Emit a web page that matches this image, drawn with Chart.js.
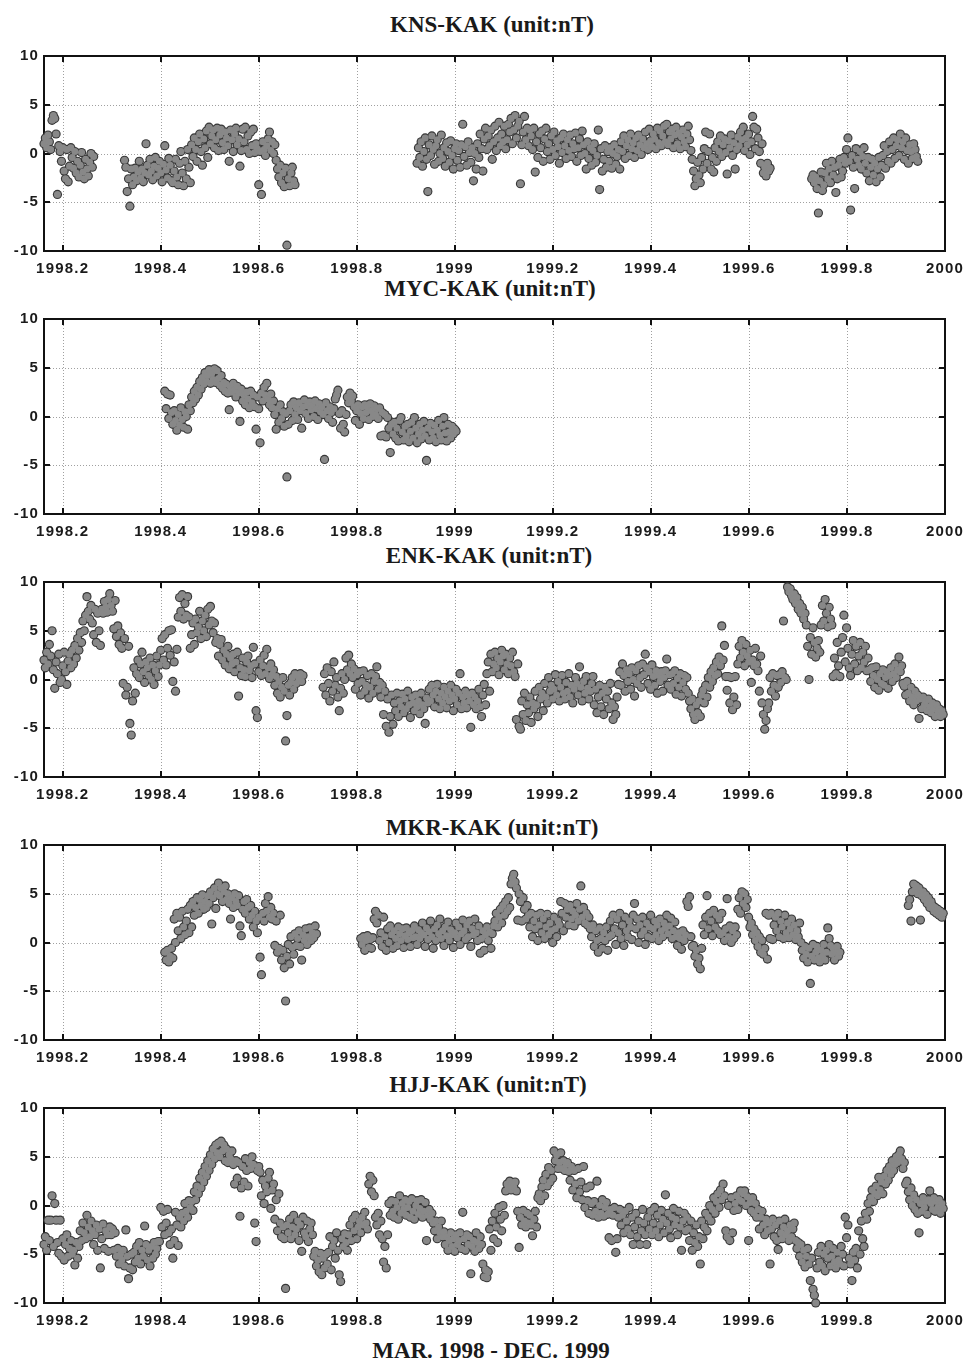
<!DOCTYPE html>
<html>
<head>
<meta charset="utf-8">
<title>Station differences, Mar 1998 - Dec 1999</title>
<script src="https://cdn.jsdelivr.net/npm/chart.js@4.4.1/dist/chart.umd.min.js"></script>
<style>
  body { margin: 0; background: #fff; }
  #page { position: relative; width: 967px; height: 1362px; overflow: hidden; }
  .title {
    position: absolute; width: 400px; text-align: center; white-space: nowrap;
    font: bold 23px 'Liberation Serif', 'Times New Roman', serif; line-height: 23px; color: #1a1a1a;
  }
  canvas { position: absolute; left: 0; }
</style>
</head>
<body>
<div id="page"></div>
<script>
// daily values, day 0 = 1 March 1998
const startYear = 1998.162;

const xTickVals = [1998.2, 1998.4, 1998.6, 1998.8, 1999, 1999.2, 1999.4, 1999.6, 1999.8, 2000];
const xTickLabels = ['1998.2', '1998.4', '1998.6', '1998.8', '1999', '1999.2', '1999.4', '1999.6', '1999.8', '2000'];
const yTickVals = [-10, -5, 0, 5, 10];
const yTickLabels = ['-10', '-5', '0', '5', '10'];

const stationNames = ['KNS-KAK', 'MYC-KAK', 'ENK-KAK', 'MKR-KAK', 'HJJ-KAK'];
const unitLabel = '(unit:nT)';
const periodLabel = 'MAR. 1998 - DEC. 1999';

// each entry: [first day, consecutive daily values in nT]
const kns = [
  [0, [
    1.0, 1.6, 0.6, 1.9, 1.2, 0.4, 3.4, 3.9, 3.6, 2.0,
    -4.2, 0.8, 0.2, -0.8, 0.6, -1.8, -2.6, 0.4, -2.9, -1.3,
    0.6, -0.4, -1.5, 0.2, -2.0, -0.8, -2.4, -1.2, 0.1, -1.9,
    -2.6, -0.6, -1.6, -2.3, -0.9, 0.0, -1.4, -0.3,
  ]],
  [60, [
    -0.7, -1.4, -3.9, -2.6, -5.4, -1.6, -3.2, -2.4, -1.5, -2.8,
    -1.9, -0.8, -2.5, -1.6, -2.9, -2.0, 1.0, -1.2, -2.2, -0.6,
    -1.8, -2.7, -1.3, -0.4, -2.3, -1.5, -0.8, -2.0, -2.9, -1.1,
    0.8, -1.7, -2.5, -0.5, -1.2, -2.8, -3.0, -1.8, -0.6, -2.4,
    -3.2, -1.0, 0.2, -2.0, -3.3, -0.8, -2.6, 0.4, -1.4, -3.0,
    0.9, -0.3, 1.6, 0.4, -0.8, 1.2, 2.0, 0.2, -1.2, 1.5,
    0.6, 2.3, -0.4, 2.7, 1.0, 1.8, 2.4, 0.6, 1.4, 2.6,
    0.3, 1.9, 2.5, 1.1, 0.4, 2.2, 1.6, 0.8, -0.8, 2.4,
    1.4, 0.2, 2.0, 2.6, 0.9, 1.5, -1.3, 0.3, 2.5, 1.2,
    2.7, 0.4, 1.8, 0.0, 2.2, 0.8, 2.5, 0.1, 1.0, 0.5,
    -3.2, 0.2, -4.2, 1.2, 0.4, -0.2, 0.8, 1.5, 2.2, 0.3,
    1.2, 0.0, 0.9, -0.7, -1.6, -2.4, -1.2, -3.0, -2.0, -3.4,
    -1.5, -9.4, -2.6, -3.3, -2.0, -1.4, -2.8, -3.2,
  ]],
  [278, [
    -1.0, 0.6, -0.4, 1.2, -1.3, 0.2, 1.6, -0.6, -3.9, 0.9,
    -0.2, 1.8, 0.4, -1.1, 0.8, 1.4, -0.8, 0.0, 1.9, -0.5,
    0.6, -1.3, 1.1, 0.2, -0.9, 1.3, -0.2, -1.6, 0.5, 1.0,
    -0.7, 0.3, -1.4, 0.9, 3.0, -0.3, 0.7, -1.2, 1.2, 0.1,
    -0.9, 0.6, -2.8, 0.0, -1.6, 1.0, -0.4, 2.0, 0.5, -1.8,
    1.5, 2.6, 0.4, 1.8, 0.8, 2.4, -0.6, 1.2, 2.8, 0.3,
    1.6, 3.2, 0.8, 2.0, 1.2, 2.8, 0.5, 1.4, 3.0, 2.2,
    3.6, 1.0, 2.4, 3.9, 1.6, 2.8, 3.3, -3.1, 0.9, 2.2,
    3.8, 1.4, 2.6, 0.8, 2.4, 1.8, 0.4, 2.6, -1.9, 1.2,
    -0.4, 2.0, 0.6, 2.3, -0.8, 1.5, 2.6, 0.2, 1.0, -0.6,
    1.8, 0.4, 2.2, -0.2, 1.3, 0.7, -1.0, 1.6, 0.1, 2.0,
    0.8, -0.5, 1.4, 0.3, 1.9, -0.3, 1.0, 0.5, 2.1, -0.8,
    0.6, 1.5, -0.2, 2.3, 0.9, 0.0, -1.6, 1.2, -0.5, 0.6,
    -1.2, 0.3, 1.0, -0.9, -0.2, 2.4, -3.7, 0.5, -1.8, -0.6,
    0.8, -1.4, 0.2, -0.8, 0.6, -1.5, 0.0, 0.9, -1.1, -0.3,
    0.4, -1.6, 1.2, 0.2, 1.8, -0.5, 0.8, 1.4, -0.2, 2.0,
    0.5, 1.1, -0.4, 1.6, 0.3, 1.9, 0.9, -0.1, 1.5, 0.6,
    2.2, 1.0, 0.4, 2.5, 1.3, 0.7, 2.0, 1.5, 0.5, 2.6,
    1.1, 2.3, 0.8, 1.8, 2.8, 1.2, 3.0, 0.9, 2.2, 1.5,
    2.5, 0.6, 1.9, 2.7, 1.0, 2.1, 0.5, 1.7, 2.4, 1.2,
    0.7, 2.0, 2.8, 1.4, 0.3, -0.6, -1.8, -3.3, -2.6, -0.9,
    -2.2, -3.0, -0.4, -1.6, 0.5, 2.2, -1.0, 0.2, 2.0, -1.6,
    -0.4, -1.9, 0.6, -0.8, 1.2, 0.2, 1.8, -0.3, 0.9, 1.5,
    0.1, -2.1, 1.3, 0.6, 1.9, -0.2, 1.1, -1.6, 0.4, 1.7,
    0.8, 2.2, 1.4, 2.7, 0.3, 1.6, 0.9, 2.0, -0.1, 1.2,
    3.8, 2.7, 0.5, 2.5, 1.6, 0.2, -1.0, 1.0, -2.0, -1.4,
    -2.3, -1.0, -1.8, -1.5,
  ]],
  [572, [
    -2.6, -2.2, -3.0, -2.4, -3.6, -6.1, -2.8, -1.9, -3.8, -3.2,
    -2.0, -1.0, -2.6, -1.6, -3.0, -0.8, -2.2, -1.4, -4.0, -2.6,
    -1.2, -0.6, -2.4, -1.8, -0.4, -1.0, 0.4, 1.6, -0.8, -5.8,
    -0.2, -1.4, -3.6, 0.5, -0.6, -1.2, 0.2, -1.6, -0.3, 0.6,
    -1.0, -2.0, -0.4, -2.8, -1.4, -0.6, -2.2, -1.0, -2.9, -1.6,
    -0.4, -2.4, -1.2, -0.2, 0.8, -1.5, 0.2, -0.8, 1.2, -1.0,
    0.4, 1.6, -0.5, 0.8, 1.4, -0.2, 2.0, 0.6, 1.2, -0.6,
    1.6, 0.3, -1.0, 0.9, 0.2, -0.5, 1.0, 0.4, -0.3, -0.8,
  ]],
];

const myc = [
  [90, [
    2.6, 0.8, 2.3, -0.2, 2.2, 0.4, -0.8, 0.6, -0.4, -1.4,
    0.2, -0.9, 0.9, -0.3, -1.1, 0.5, 0.0, -1.3, 1.2, 0.6,
    2.0, 1.4, 2.6, 1.8, 3.0, 2.2, 3.6, 2.8, 4.0, 3.3,
    4.5, 3.6, 4.2, 4.8, 3.4, 4.4, 3.8, 4.9, 3.5, 4.7,
    3.9, 3.2, 4.2, 2.9, 3.5, 2.6, 3.3, 2.4, 0.7, 3.0,
    2.5, 3.4, 2.7, 2.0, 3.1, 2.4, -0.5, 2.8, 1.6, 2.2,
    1.2, 2.5, 1.8, 0.9, 2.6, 1.4, 2.2, 1.0, -1.3, 2.0,
    0.8, -2.7, 2.4, 1.6, 3.0, 2.2, 3.4, 1.8, 1.2, 2.3,
    0.9, 1.6, 0.2, -1.3, 0.8, -0.6, 1.2, -0.2, 0.5, -1.0,
    0.3, -6.2, -0.8, 0.6, 1.2, -0.4, 1.5, 0.2, 0.9, -0.3,
    1.4, 0.6, -1.2, 1.0, 1.7, 0.3, 1.1, -0.2, 1.5, 0.7,
    1.2, 0.0, 1.6, 0.8, -0.3, 1.3, 0.5, 1.0, 0.2, -4.4,
    1.4, 0.6, -0.2, 1.0, 0.4, -0.6, 0.8, 1.8, 2.2, 2.7,
    0.3, -1.2, 0.6, -0.8, -1.6, 0.2, 2.0, 1.4, 2.4, 1.6,
    2.1, 1.0, -0.4, 0.6, 1.2, -0.8, 0.3, 1.0, -0.2, 1.2,
    0.4, 1.0, -0.3, 1.3, 0.6, 0.0, 1.1, 0.2, 0.8, -0.2,
    0.9, -2.0, 0.4, -1.9, 0.2, -2.1, -0.1, -1.2, -3.7, -0.8,
    -1.8, -0.6, -2.2, -1.2, -2.5, -0.4, -0.1, -1.6, -2.4, -1.0,
    -2.0, -0.8, -2.6, -1.5, -0.6, -2.2, -0.1, -1.2, -2.7, -1.8,
    -0.8, -2.3, -1.4, -0.5, -2.0, -4.5, -1.2, -2.4, -0.7, -1.6,
    -2.2, -0.9, -2.6, -1.4, -0.4, -1.9, -2.4, -1.0, -0.1, -1.7,
    -2.5, -0.8, -1.6, -2.2, -1.0, -1.8, -1.3, -1.5,
  ]],
];

const enk = [
  [0, [
    2.0, 1.2, 2.8, 1.6, 3.6, 2.4, 5.0, 1.0, -0.9, 1.8,
    0.6, 2.6, -0.3, 0.0, 1.4, 2.8, 0.8, -0.5, 1.9, 2.6,
    1.2, 3.0, 1.6, 3.5, 2.2, 4.2, 3.0, 4.8, 3.8, 6.0,
    5.0, 6.6, 8.5, 7.0, 6.2, 7.6, 5.8, 4.6, 7.2, 3.8,
    6.8, 5.0, 3.5, 7.2, 6.8, 8.0, 7.4, 6.9, 8.2, 8.8,
    7.6, 7.0, 5.2, 8.1, 4.4, 5.5, 3.6, 4.8, 3.2, -0.4,
    4.2, -1.6, -0.8, 3.4, -4.5, -5.7, -2.2, 1.2, -1.4, 0.6,
    2.0, 0.2, 1.6, 2.8, 0.8, -0.3, 1.8, 1.2, 0.4, 2.2,
    0.0, 1.5, -0.5, 0.9, 2.4, 0.3, 1.5, 3.0, 4.2, 2.0,
    4.6, 1.5, 3.2, 5.0, 2.5, 5.1, -0.2, 1.8, -1.2, 3.1,
    6.4, 8.4, 7.0, 8.7, 6.2, 7.8, 6.6, 8.5, 6.4, 3.2,
    4.6, 5.8, 3.6, 6.2, 4.8, 5.4, 7.0, 4.2, 6.0, 5.0,
    6.6, 4.4, 7.2, 5.6, 7.5, 6.0, 4.8, 5.8, 3.8, 4.2,
    2.4, 3.6, 4.1, 2.0, 3.0, 1.5, 2.6, 3.4, 1.1, 2.2,
    1.6, 2.6, 0.8, 1.8, 2.8, -1.7, 1.2, 0.4, 2.2, 1.0,
    0.3, 1.8, 2.4, 0.9, 1.4, 0.2, 3.3, 1.6, -3.2, -3.9,
    0.8, 2.0, 0.4, 1.4, 2.5, 0.6, 3.1, 1.2, 0.1, 1.6,
    0.5, 1.0, -0.6, 0.3, -1.4, -0.2, -1.8, -0.8, 0.2, -1.2,
    -6.3, -3.7, -0.6, -1.6, -0.3, 0.2, -1.0, 0.6, -0.4, 0.4,
    0.0, 0.6, -0.2, 0.4,
  ]],
  [208, [
    -0.8, 0.6, -1.6, 1.2, -0.4, -2.2, 0.8, -1.2, 1.8, -0.6,
    0.2, -1.8, -3.2, -0.9, 0.6, -1.4, 0.0, 2.2, 1.0, 2.5,
    0.6, 1.6, 0.2, 1.1, -1.0, 0.5, -0.4, 0.8, -1.6, -0.2,
    0.9, -1.2, -0.6, 0.4, -1.9, -0.8, 0.6, -1.4, -0.2, 0.3,
    1.3, -1.0, -0.3, -1.8, -0.6, -3.6, -1.2, -4.8, -2.0, -5.4,
    -3.8, -1.6, -4.6, -2.4, -3.2, -1.4, -3.8, -2.2, -2.8, -1.5,
    -3.4, -2.0, -3.0, -1.2, -2.6, -3.9, -1.8, -2.4, -3.2, -1.6,
    -2.8, -2.2, -3.5, -1.4, -2.6, -3.0, -4.5, -1.9, -2.4, -1.0,
    -2.2, -0.6, -1.6, -2.8, -1.2, -0.5, -2.0, -3.0, -1.4, -2.4,
    -0.8, -1.8, -2.9, -1.2, -2.2, -0.6, -1.6, -3.2, -2.0, -1.0,
    -2.6, -1.4, 0.6, -3.0, -1.8, -2.4, -1.2, -2.9, -1.6, -2.2,
    -4.9, -1.4, -2.6, -1.8, -3.0, -2.2, -1.0, -2.8, -3.8, -1.6,
    -0.5, -2.6, 0.6, 1.8, -1.2, 2.6, 0.8, 1.6, 2.8, 1.2,
    2.2, 0.5, 1.8, 3.0, 2.4, 1.0, 2.6, 1.6, 0.6, 2.2,
    1.4, 2.8, 0.8, 0.3, -4.1, 1.6, -4.8, -5.1, -2.2, -3.6,
    -1.4, -4.2, -2.6, -3.4, -1.8, -4.4, -2.4, -3.0, -1.2, -2.6,
    -3.8, -0.8, -2.0, -1.4, -3.2, -0.4, -1.8, -2.4, 0.2, -1.2,
    -0.6, -2.0, -1.0, 0.5, -1.6, -0.2, -2.2, -0.8, 0.4, -1.4,
    -2.0, -0.3, -1.2, 0.6, -1.8, -0.6, -2.4, -1.0, 0.2, -0.4,
    -1.6, 1.3, -0.8, -2.2, -0.2, -1.4, 0.3, -0.9, -2.0, -1.2,
    -0.4, 0.3, -2.6, -1.0, -3.4, -1.8, -0.6, -2.8, -1.4, -3.6,
    -0.8, -2.0, -1.2, -3.0, -0.4, -2.4, -4.1, -2.8, -3.6, -1.8,
    -0.5, 0.8, -0.6, 1.6, 0.4, -1.2, 1.0, -0.2, 0.6, -1.0,
    1.2, 0.0, -1.7, 0.9, -0.4, 1.4, 0.2, -0.8, 1.6, 0.5,
    2.6, 1.2, -0.4, 0.8, -1.0, 1.5, 0.3, -0.6, 0.9, -1.4,
    0.4, -0.2, 0.8, -1.2, 0.2, 0.9, 2.1, -0.6, 0.5, -1.0,
    0.6, -0.4, 0.9, -1.5, 0.1, -0.8, 0.6, -1.7, -0.3, 0.4,
    -1.0, 0.2, -1.4, -2.2, -3.0, -2.0, -3.6, -4.1, -2.6, -3.4,
    -2.2, -3.8, -1.6, -1.1, -2.4, -0.6, -1.8, 0.2, -0.8, 0.8,
    -0.2, 1.2, 0.4, 1.8, 0.6, 2.3, 1.4, 5.5, 2.0, 3.5,
    0.3, -1.1, 0.3, -2.4, 0.2, -3.1, -1.8, 0.3, -2.6, 1.6,
    3.4, 2.2, 4.0, 2.8, 1.4, 3.6, 2.4, 1.8, 3.0, -0.3,
    2.0, 1.4, 3.2, 1.6, 0.9, -1.2, 2.4, -2.4, -3.6, -5.1,
    -4.2, -3.0, -2.4, 0.2, -1.2, 0.6, -0.6, -1.7, 0.4, -0.8,
    0.5, -0.3, 0.8, 6.0, 0.2, 0.0, 9.5, 9.0, 9.3, 8.6,
    8.2, 8.8, 7.8, 8.4, 7.2, 7.8, 6.8, 7.4, 6.2, 6.8,
    5.6, 3.4, 0.0, 4.3, 2.6, 5.3, 3.8, 2.3, 3.2, 4.0,
    2.8, 5.6, 7.6, 6.0, 8.2, 6.8, 5.4, 7.4, 6.2, 5.6,
    0.3, 2.2, 0.6, 3.8, 1.4, 0.3, 2.8, 4.3, 6.6, 1.8,
    5.3, 3.2, 1.2, 0.4, 2.6, 4.0, 1.6, 3.4, 0.9, 2.4,
    3.8, 1.2, 2.8, 1.8, 3.4, 0.9, 2.2, 1.0, -0.2, 1.2,
    0.4, -0.8, 1.3, 0.0, -1.1, 0.6, -0.4, 1.0, -0.6, 0.2,
    0.8, -0.9, 0.4, 1.2, -0.2, 0.6, 1.6, 0.2, 1.0, 2.3,
    0.8, 1.4, -0.4, -0.7, -1.6, -0.2, -1.4, -2.2, -0.8, -1.8,
    -2.6, -1.2, -2.2, -1.6, -4.0, -2.0, -3.0, -1.8, -2.6, -2.2,
    -3.2, -2.0, -2.8, -3.4, -2.4, -3.0, -3.8, -2.6, -3.4, -3.0,
    -3.8, -3.2, -3.6,
  ]],
];

const mkr = [
  [90, [
    -1.0, -1.8, -0.8, -2.0, -1.4, -0.6, -1.6, 2.4, 0.0, 3.0,
    1.2, 2.6, 0.4, 3.2, 1.6, 0.8, 2.2, 3.4, 1.0, 3.8,
    1.6, 4.2, 2.8, 3.6, 4.6, 3.0, 4.4, 3.8, 4.9, 3.4,
    4.2, 3.6, 4.8, 4.0, 5.2, 1.9, 4.6, 5.6, 3.5, 5.0,
    6.1, 4.8, 5.6, 4.2, 5.2, 5.8, 4.4, 5.0, 4.0, 2.4,
    4.6, 3.6, 5.0, 4.2, 3.8, 4.8, 1.7, 0.7, 3.4, 4.2,
    3.0, 4.4, 3.6, 2.4, 3.8, 2.8, 1.6, 3.2, 2.2, 1.0,
    2.6, -1.5, -3.3, 3.0, 2.2, 4.0, 3.2, 4.7, 2.6, 3.6,
    2.4, 3.0, -0.3, 2.2, -1.0, -0.6, 2.8, -1.8, -0.8, -2.6,
    -6.0, -1.4, -0.2, -2.2, 0.6, -0.5, -1.2, 0.9, -0.3, 0.4,
    1.2, -0.4, -1.8, 0.8, 0.2, 1.4, -0.2, 0.6, 1.5, 0.2,
    1.0, 0.5, 1.7, 0.9,
  ]],
  [236, [
    0.4, -0.2, 0.6, -0.8, 0.2, 0.7, -0.5, 0.3, -0.6, 0.5,
    2.4, 3.2, 2.0, 2.8, 0.2, 1.0, -0.4, 2.6, 0.6, -0.8,
    1.4, 0.0, 1.7, 0.8, -0.6, 1.2, 0.4, -0.3, 1.6, 0.9,
    0.2, 1.4, -0.5, 0.7, 1.5, 0.3, 1.0, -0.4, 1.2, 0.5,
    1.7, 0.6, -0.2, 1.3, 0.4, 1.0, 2.0, 0.8, -0.4, 1.5,
    0.3, 1.1, 2.2, 0.6, -0.6, 1.4, 0.2, 1.8, 0.9, 2.4,
    0.4, 1.2, -0.3, 1.6, 0.7, 2.1, 0.2, 1.3, 0.8, -0.5,
    1.0, 2.0, 0.5, 1.6, -0.2, 0.9, 2.3, 1.2, 0.3, 1.8,
    0.6, 2.2, -0.4, 1.4, 0.8, 2.4, 1.0, 0.2, 1.7, -1.1,
    0.4, 1.2, -0.8, 0.8, 1.6, 0.2, 1.1, -0.6, 0.9, 1.7,
    2.2, 3.0, 1.6, 2.6, 3.4, 2.0, 3.8, 2.8, 4.2, 3.2,
    4.6, 3.6, 6.0, 6.6, 7.0, 6.2, 5.6, 2.3, 5.0, 4.2,
    2.2, 4.6, 3.4, 2.4, 3.8, 2.8, 1.6, 3.0, 0.6, 2.2,
    1.4, 2.8, 0.2, 1.8, 3.0, 1.0, 2.4, 0.4, 1.6, 2.9,
    0.8, 2.0, 1.2, 0.0, 2.6, 1.4, 0.6, 2.2, 1.8, 4.2,
    3.0, 1.2, 4.0, 2.6, 3.4, 1.8, 3.8, 2.4, 3.2, 1.7,
    2.8, 4.0, 2.2, 3.4, 5.8, 2.6, 3.6, 2.0, 3.0, 1.8,
    2.6, 1.4, 0.6, 1.8, -0.4, 1.2, 0.2, -1.0, 1.5, 0.4,
    -0.6, 1.0, 0.2, 1.6, -0.8, 0.6, 2.2, 0.8, 2.8, 1.4,
    -0.2, 2.4, 1.0, 3.0, 0.4, 1.8, -0.3, 2.6, 1.2, 0.6,
    2.2, 1.6, 0.3, 2.8, 4.0, 1.4, 2.4, 0.0, 1.8, 0.8,
    2.6, 1.2, -0.2, 2.0, 0.6, 1.6, 2.8, 0.4, 1.4, 2.2,
    0.8, 1.8, 0.2, 2.4, 1.2, 0.6, 2.0, 1.5, 2.8, 0.9,
    1.7, 2.5, 0.4, 1.2, 2.1, 0.6, -0.3, 1.0, 0.4, -0.7,
    1.2, 0.2, 0.8, 4.2, 3.7, 4.7, 0.6, -0.4, -0.3, -1.4,
    -0.8, -2.2, -1.6, -2.7, -0.6, 1.8, 0.8, 2.6, 4.8, 1.4,
    3.0, 2.2, 0.7, 3.3, 1.6, 2.8, 1.2, 2.4, 0.8, 3.0,
    1.0, 0.2, 1.4, 4.5, 0.6, 1.7, 0.0, 1.2, 0.4, 1.6,
    0.8, 3.4, 4.6, 3.0, 5.2, 4.0, 5.0, 3.6, 4.4, 2.6,
    1.6, 2.0, 0.8, 1.4, 0.2, 1.0, -0.4, 0.6, -1.0, 0.2,
    -1.2, -0.6, 3.0, -1.7, 2.8, 0.4, 3.0, 0.3, 1.8, 2.6,
    1.2, 3.0, 0.6, 2.2, 1.6, 0.4, 2.8, 1.0, 2.0, 0.5,
    1.4, 2.4, 0.8, 1.8, 0.3, 1.2, 0.6, 2.0, 0.0, -0.8,
    -1.6, -0.4, -1.2, -2.0, -0.6, -4.2, -1.4, -0.2, -1.8, -1.0,
    -0.4, -1.6, -2.0, -0.8, -1.4, -0.2, -1.8, -1.0, 1.5, 0.4,
    -0.3, -1.2, -0.6, -1.8, -1.0, -0.4, -1.4, -1.0,
  ]],
  [644, [
    3.8, 4.4, 2.2, 5.2, 6.0, 5.4, 5.8, 5.0, 5.6, 2.3,
    4.8, 5.2, 4.4, 4.9, 4.0, 4.6, 3.6, 4.2, 3.8, 3.2,
    3.6, 3.0, 3.4, 2.8, 3.2, 2.6, 3.0,
  ]],
];

const hjj = [
  [0, [
    -4.0, -3.2, -4.6, -1.5, -3.6, -1.5, 1.0, -4.2, 0.2, -1.5,
    -3.8, -4.9, -1.5, -5.2, -3.4, -5.6, -4.0, -3.0, -5.2, -4.4,
    -3.6, -5.0, -4.6, -6.1, -3.8, -5.4, -4.2, -2.6, -3.6, -1.8,
    -2.8, -3.4, -1.0, -2.2, -3.2, -1.6, -2.6, -4.0, -3.0, -2.0,
    -4.6, -2.4, -6.4, -3.4, -1.9, -4.4, -2.6, -3.0, -4.7, -2.2,
    -3.0, -2.4, -4.6, -2.8, -5.2, -4.4, -6.0, -5.0, -5.6, -4.6,
    -6.2, -2.5, -5.2, -7.5, -6.4, -5.0, -6.6, -4.8, -5.8, -4.2,
    -5.4, -3.8, -6.0, -4.6, -5.2, -2.1, -4.0, -5.6, -4.6, -6.2,
    -4.2, -5.4, -3.8, -5.0, -4.4, -3.7, -3.7, -0.2, -2.2, -0.6,
    -3.0, -1.8, -0.4, -2.8, -4.0, -2.4, -5.4, -3.6, -0.7, -2.0,
    -4.1, -1.2, -2.2, -0.8, -1.6, 0.2, -0.6, -1.2, 0.5, -0.2,
    0.4, -0.5, 1.4, 0.6, 2.0, 1.2, 2.8, 1.8, 3.4, 2.4,
    4.0, 3.0, 4.6, 3.6, 5.2, 4.2, 5.8, 4.8, 6.2, 5.4,
    6.4, 5.0, 6.6, 5.6, 6.2, 4.6, 5.8, 4.4, 5.2, 4.8,
    5.6, 4.2, 2.2, 4.6, 2.8, 4.4, -1.1, 1.8, 4.0, 2.4,
    4.8, 3.6, 2.0, 4.4, 3.8, 5.0, 4.2, -1.8, -3.7, 3.6,
    4.0, 3.4, 1.0, 2.6, 0.2, 2.0, 1.4, 2.8, 3.4, -0.3,
    1.6, 2.2, -1.4, 0.6, -2.6, 1.2, -1.8, -3.2, -2.2, -3.4,
    -8.5, -2.0, -2.8, -1.4, -3.4, -2.2, -1.0, -3.0, -2.4, -1.6,
    -3.6, -2.0, -4.7, -1.2, -2.8, -3.2, -1.6, -3.7, -2.4, -1.8,
    -3.0, -5.2, -4.7, -6.2, -5.6, -6.8, -4.9, -7.1, -5.4, -6.4,
    -5.0, -6.0, -4.8, -3.2, -6.6, -4.2, -3.6, -5.4, -2.8, -4.6,
    -7.1, -7.8, -3.4, -4.2, -2.9, -3.8, -4.6, -3.0, -2.0, -3.6,
    -1.4, -2.6, -1.0, -3.4, -2.2, -1.6, -2.8, -1.2, -2.0, -0.7,
    -1.8, -2.4, 2.2, 3.0, 1.4, 2.6, 1.0, -1.2, -2.0, -0.8,
    -3.0, -1.6, -3.4, -5.8, -4.2, -6.4, -3.0, 0.2, -1.0, 0.5,
    -0.6, -1.2, 0.4, -0.2, -1.4, 1.0, -0.8, 0.2, -0.4, 0.6,
    -1.0, -0.2, 0.4, -1.2, 0.7, -0.6, -1.4, 0.0, 0.5, -0.9,
    -0.3, 0.6, -1.2, -0.6, 0.3, -3.6, -1.0, -0.4, -1.4, -0.8,
    -1.8, -2.6, -1.6, -3.4, -2.2, -2.8, -1.6, -3.2, -2.7, -4.0,
    -3.2, -4.6, -3.6, -2.8, -4.2, -3.4, -4.7, -3.0, -4.0, -3.6,
    -2.8, -4.4, -0.7, -3.4, -4.6, -3.0, -4.0, -3.2, -7.0, -4.2,
    -3.6, -4.7, -2.8, -3.8, -4.4, -3.2, -4.0, -6.0, -7.3, -6.6,
    -7.4, -6.8, -2.4, -4.6, -1.6, -3.4, -0.8, -2.2, -3.8, -0.2,
    -1.4, -2.6, 0.0, -1.0, 1.5, 2.2, 1.8, 2.5, 1.6, 2.3,
    1.9, 2.4, 1.5, -0.6, -4.3, -1.2, -2.0, -0.5, -1.6, -2.2,
    -0.8, -1.8, -1.0, -2.0, -3.1, -1.4, -0.6, -2.2, 0.8, 1.2,
    0.5, 1.9, 2.6, 1.0, 3.2, 2.0, 3.9, 2.4, 3.6, 2.8,
    5.6, 4.6, 5.2, 3.8, 4.4, 5.4, 3.8, 4.6, 3.6, 4.2,
    4.4, 3.5, 2.6, 4.0, 1.6, 3.6, 2.2, 0.8, 3.8, 1.4,
    2.4, 0.6, 4.0, -0.2, 1.8, 0.5, -0.8, 2.0, 0.2, -1.0,
    0.4, -0.6, 2.5, -1.2, 0.0, -0.8, 0.6, -1.1, -0.2, 0.3,
    -0.9, -3.3, -0.4, -3.6, -1.0, -0.2, -4.8, -3.4, -1.2, -0.4,
    -2.0, -1.0, -2.8, -0.6, -1.6, -2.4, -0.2, -3.0, -1.2, -4.0,
    -2.2, -0.8, -3.2, -1.6, -4.0, -2.6, -0.4, -1.8, -3.0, -4.0,
    -1.2, -2.4, -0.6, -3.0, -1.8, -0.2, -2.6, -1.0, -3.2, -2.0,
    -0.5, -1.4, -2.8, 1.1, -1.8, -0.8, -2.4, -3.3, -1.2, -0.3,
    -2.0, -1.4, -3.0, -0.6, -2.2, -4.6, -1.6, -0.8, -2.6, -1.2,
    -2.4, -3.6, -1.6, -4.6, -2.8, -3.8, -2.0, -4.2, -3.2, -6.0,
    -1.6, -3.4, -2.2, -0.8, -2.6, -1.2, 0.0, -1.6, -0.4, 0.8,
    -0.8, 0.4, 1.2, -0.2, 1.6, 0.6, 2.2, 1.0, -2.6, -3.2,
    0.0, -3.6, 0.8, -2.8, -0.5, 0.2, 1.0, -0.4, 0.6, 1.5,
    0.4, 1.2, 1.5, 0.0, 0.9, -3.6, 0.3, -0.5, 0.8, -0.8,
    0.2, -1.2, -0.4, -2.4, -1.2, -0.6, -2.0, -3.0, -1.4, -2.6,
    -1.8, -6.0, -2.4, -1.4, -3.2, -2.0, -3.6, -4.5, -1.6, -2.8,
    -3.4, -2.2, -1.4, -3.0, -2.6, -3.6, -2.0, -3.2, -2.4, -1.8,
    -3.6, -4.4, -3.8, -5.2, -4.0, -5.8, -4.6, -6.3, -5.2, -4.4,
    -6.0, -7.7, -5.4, -8.6, -9.2, -10.0, -6.4, -4.8, -5.8, -4.2,
    -6.2, -5.0, -6.7, -4.6, -5.4, -4.0, -6.2, -5.2, -4.4, -5.8,
    -6.4, -4.8, -5.6, -6.0, -4.2, -5.0, -6.2, -1.2, -3.3, -2.0,
    -5.4, -6.0, -7.7, -4.8, -5.6, -4.4, -6.4, -2.6, -5.0, -1.6,
    -3.4, -4.2, -0.8, -1.4, 0.2, -0.6, 0.8, 1.6, 0.4, 1.2,
    2.0, 1.0, 2.9, 1.6, 2.4, 1.2, 3.0, 2.2, 3.6, 2.6,
    4.0, 3.2, 4.6, 3.6, 4.2, 5.0, 4.4, 5.2, 5.6, 4.8,
    3.8, 4.4, 2.2, 2.5, 1.4, 0.6, 1.8, 0.0, 1.1, -0.4,
    0.6, -0.8, -2.8, 0.2, -0.6, 0.8, -0.2, 0.4, -0.9, 0.6,
    1.5, 0.2, -0.4, 0.8, -0.6, 0.4, -0.2, 0.6, -0.8, 0.2,
    -0.3,
  ]],
];

const seriesList = [kns, myc, enk, mkr, hjj];

// page layout, px
const pageWidth = 967;
const plotTops = [52, 315, 578, 841, 1104];
const titleBaselines = [32, 296, 563, 835, 1092];
const titleCenters = [492, 490, 489, 492, 488];
const periodBaseline = 1358, periodCenter = 491;
const plotLeft = 44, plotRight = 945, plotHeight = 199;
const padTop = 10, xAxisHeight = 22;

const tickFont = { family: "'Liberation Sans', Arial, sans-serif", size: 15, weight: 'bold' };

// MATLAB-like box: dotted grid, inward ticks on all four sides
const axisFrame = {
  id: 'axisFrame',
  beforeDraw(chart) {
    chart.ctx.letterSpacing = '1.2px';
  },
  beforeDatasetsDraw(chart) {
    const { ctx, chartArea: a, scales: { x, y } } = chart;
    ctx.save();
    ctx.strokeStyle = '#a0a0a0';
    ctx.lineWidth = 1;
    ctx.setLineDash([1, 2]);
    ctx.beginPath();
    xTickVals.slice(0, -1).forEach(v => {
      const px = Math.round(x.getPixelForValue(v)) + 0.5;
      ctx.moveTo(px, a.top);
      ctx.lineTo(px, a.bottom);
    });
    yTickVals.slice(1, -1).forEach(v => {
      const py = Math.round(y.getPixelForValue(v)) + 0.5;
      ctx.moveTo(a.left, py);
      ctx.lineTo(a.right, py);
    });
    ctx.stroke();

    ctx.setLineDash([]);
    ctx.strokeStyle = '#111';
    ctx.lineWidth = 2;
    const t = 6;
    ctx.beginPath();
    xTickVals.forEach(v => {
      const px = Math.round(x.getPixelForValue(v));
      ctx.moveTo(px, a.top); ctx.lineTo(px, a.top + t);
      ctx.moveTo(px, a.bottom); ctx.lineTo(px, a.bottom - t);
    });
    yTickVals.forEach(v => {
      const py = Math.round(y.getPixelForValue(v));
      ctx.moveTo(a.left, py); ctx.lineTo(a.left + t, py);
      ctx.moveTo(a.right, py); ctx.lineTo(a.right - t, py);
    });
    ctx.stroke();
    ctx.strokeRect(a.left, a.top, a.right - a.left, a.bottom - a.top);
    ctx.restore();
  }
};

function toPoints(segments) {
  const pts = [];
  segments.forEach(([firstDay, vals]) => {
    vals.forEach((v, j) => pts.push({ x: startYear + (firstDay + j) / 365.25, y: v }));
  });
  return pts;
}

const page = document.getElementById('page');

function addText(text, center, baseline) {
  const el = document.createElement('div');
  el.className = 'title';
  el.textContent = text;
  el.style.left = (center - 200) + 'px';
  el.style.top = (baseline - 19) + 'px';
  page.appendChild(el);
}

seriesList.forEach((segments, k) => {
  addText(stationNames[k] + ' ' + unitLabel, titleCenters[k], titleBaselines[k]);

  const canvas = document.createElement('canvas');
  canvas.width = pageWidth;
  canvas.height = padTop + plotHeight + xAxisHeight;
  canvas.style.top = (plotTops[k] - padTop) + 'px';
  page.appendChild(canvas);

  const pts = toPoints(segments);
  new Chart(canvas, {
    type: 'scatter',
    data: {
      datasets: [
        // grey fill drawn over the dark halo, so touching dots merge into one outlined blob
        { data: pts, pointRadius: 3.5, pointBackgroundColor: '#888888', pointBorderWidth: 0, clip: 6 },
        { data: pts, pointRadius: 4.6, pointBackgroundColor: '#363636', pointBorderWidth: 0, clip: 6 },
      ],
    },
    options: {
      responsive: false,
      animation: false,
      events: [],
      layout: { padding: { top: padTop, right: pageWidth - plotRight, left: 0, bottom: 0 } },
      plugins: { legend: { display: false }, tooltip: { enabled: false } },
      scales: {
        x: {
          type: 'linear',
          min: startYear,
          max: 2000,
          afterBuildTicks: s => { s.ticks = xTickVals.map(v => ({ value: v })); },
          afterFit: s => { s.height = xAxisHeight; },
          grid: { display: false, drawTicks: true, tickLength: 7 },
          border: { display: false },
          ticks: {
            autoSkip: false, maxRotation: 0, padding: 2, color: '#1a1a1a', font: tickFont,
            callback: (v, i) => xTickLabels[i],
          },
        },
        y: {
          min: -10,
          max: 10,
          afterBuildTicks: s => { s.ticks = yTickVals.map(v => ({ value: v })); },
          afterFit: s => { s.width = plotLeft; },
          grid: { display: false, drawTicks: false },
          border: { display: false },
          ticks: {
            padding: 5, color: '#1a1a1a', font: tickFont,
            callback: (v, i) => yTickLabels[i],
          },
        },
      },
    },
    plugins: [axisFrame],
  });
});

addText(periodLabel, periodCenter, periodBaseline);
</script>
</body>
</html>
